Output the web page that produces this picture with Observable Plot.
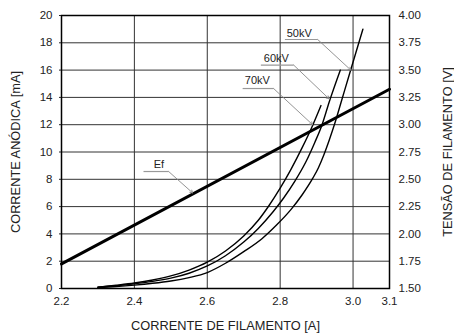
<!DOCTYPE html>
<html>
<head>
<meta charset="utf-8">
<script src="https://cdn.jsdelivr.net/npm/d3@7"></script>
<script src="https://cdn.jsdelivr.net/npm/@observablehq/plot@0.6"></script>
<style>
  html, body { margin: 0; padding: 0; background: #fff; }
  #chart svg { display: block; }
</style>
</head>
<body>
<div id="chart"></div>
<script>
// ---- data ----
const xTicks = [2.2, 2.4, 2.6, 2.8, 3.0, 3.1];
const xGrid = [2.4, 2.6, 2.8, 3.0];
const mATicks = [0, 2, 4, 6, 8, 10, 12, 14, 16, 18, 20];
const voltTicks = [1.50, 1.75, 2.00, 2.25, 2.50, 2.75, 3.00, 3.25, 3.50, 3.75, 4.00];

const kv50Current = [2.30, 2.35, 2.40, 2.45, 2.50, 2.55, 2.60, 2.65, 2.70, 2.75, 2.79, 2.83, 2.86, 2.89, 2.905, 2.92, 2.935, 2.95, 2.97, 2.99, 3.027];
const kv50Anode   = [0.08, 0.15, 0.25, 0.38, 0.55, 0.80, 1.17, 1.85, 2.70, 3.65, 4.65, 5.80, 6.85, 8.1, 8.85, 9.8, 10.9, 12.1, 13.9, 15.7, 19.0];

const kv60Current = [2.30, 2.35, 2.40, 2.45, 2.50, 2.55, 2.60, 2.65, 2.70, 2.74, 2.78, 2.81, 2.84, 2.87, 2.895, 2.915, 2.935, 2.965];
const kv60Anode   = [0.10, 0.20, 0.34, 0.52, 0.76, 1.12, 1.65, 2.40, 3.40, 4.40, 5.60, 6.65, 7.85, 9.25, 10.7, 12.0, 13.7, 16.0];

const kv70Current = [2.30, 2.35, 2.40, 2.45, 2.50, 2.55, 2.60, 2.65, 2.70, 2.74, 2.77, 2.80, 2.83, 2.86, 2.89, 2.912];
const kv70Anode   = [0.10, 0.24, 0.40, 0.62, 0.92, 1.35, 1.93, 2.75, 3.85, 5.0, 6.1, 7.35, 8.75, 10.3, 12.0, 13.4];

const efCurrent = [2.2, 3.1];
const efVoltage = [1.725, 3.325];

const annLabels = ["50kV", "60kV", "70kV", "Ef"];
const annTextX = [2.818, 2.755, 2.703, 2.453];
const annTextY = [18.46, 16.63, 14.95, 8.86];
const annLineX1 = [2.813, 2.747, 2.697, 2.425];
const annLineX2 = [2.903, 2.837, 2.782, 2.494];
const annLineY = [18.24, 16.37, 14.65, 8.57];
const annTargetX = [2.994, 2.934, 2.889, 2.560];
const annTargetY = [16.0, 13.9, 12.0, 7.0];

// ---- build tables ----
const toMA = v => (v - 1.5) * 8;
const series = (xs, ys, name) => xs.map((x, i) => ({x, y: ys[i], name}));
const curves = [
  ...series(kv50Current, kv50Anode, "50kV"),
  ...series(kv60Current, kv60Anode, "60kV"),
  ...series(kv70Current, kv70Anode, "70kV")
];
const ef = efCurrent.map((x, i) => ({x, v: efVoltage[i]}));
const ann = annLabels.map((label, i) => ({
  label, tx: annTextX[i], ty: annTextY[i],
  lx1: annLineX1[i], lx2: annLineX2[i], ly: annLineY[i],
  ax: annTargetX[i], ay: annTargetY[i]
}));

const font = "'Liberation Sans', Arial, Helvetica, sans-serif";

const plot = Plot.plot({
  width: 454,
  height: 335,
  marginLeft: 61,
  marginRight: 65,
  marginTop: 15,
  marginBottom: 47,
  style: {fontFamily: font, fontSize: "11.5px", color: "#222", background: "#fff"},
  x: {domain: [2.2, 3.1]},
  y: {domain: [0, 20]},
  marks: [
    Plot.ruleY(mATicks, {stroke: "#333", strokeWidth: 1}),
    Plot.ruleX(xGrid, {stroke: "#333", strokeWidth: 1}),
    Plot.line(curves, {x: "x", y: "y", z: "name", curve: "monotone-x", stroke: "#000", strokeWidth: 1.4}),
    Plot.line(ef, {x: "x", y: d => toMA(d.v), stroke: "#000", strokeWidth: 3}),
    Plot.link(ann, {x1: "lx1", x2: "lx2", y1: "ly", y2: "ly", stroke: "#999", strokeWidth: 1.2}),
    Plot.arrow(ann, {x1: "lx2", y1: "ly", x2: "ax", y2: "ay", stroke: "#888", strokeWidth: 0.9, headLength: 5, insetEnd: 0}),
    Plot.text(ann, {x: "tx", y: "ty", text: "label", textAnchor: "start", lineAnchor: "bottom", fontSize: 11, fill: "#222"}),
    Plot.frame({stroke: "#000", strokeWidth: 1.5}),
    Plot.axisX(xTicks, {tickSize: 0, tickPadding: 8, tickFormat: d => d.toFixed(1), label: null}),
    Plot.axisY(mATicks, {anchor: "left", tickSize: 2, tickPadding: 7, label: null}),
    Plot.axisY(voltTicks.map(toMA), {anchor: "right", tickSize: 0, tickPadding: 9, tickFormat: d => (d / 8 + 1.5).toFixed(2), label: null}),
    Plot.text(["CORRENTE ANÓDICA [mA]"], {frameAnchor: "left", dx: -46, rotate: -90, textAnchor: "middle", lineAnchor: "middle", fontSize: 12.8, fill: "#222"}),
    Plot.text(["TENSÃO DE FILAMENTO [V]"], {frameAnchor: "right", dx: 58, rotate: -90, textAnchor: "middle", lineAnchor: "middle", fontSize: 12.8, fill: "#222"}),
    Plot.text(["CORRENTE DE FILAMENTO [A]"], {frameAnchor: "bottom", dy: 37, textAnchor: "middle", lineAnchor: "middle", fontSize: 12.8, fill: "#222"})
  ]
});
document.getElementById("chart").appendChild(plot);
</script>
</body>
</html>
